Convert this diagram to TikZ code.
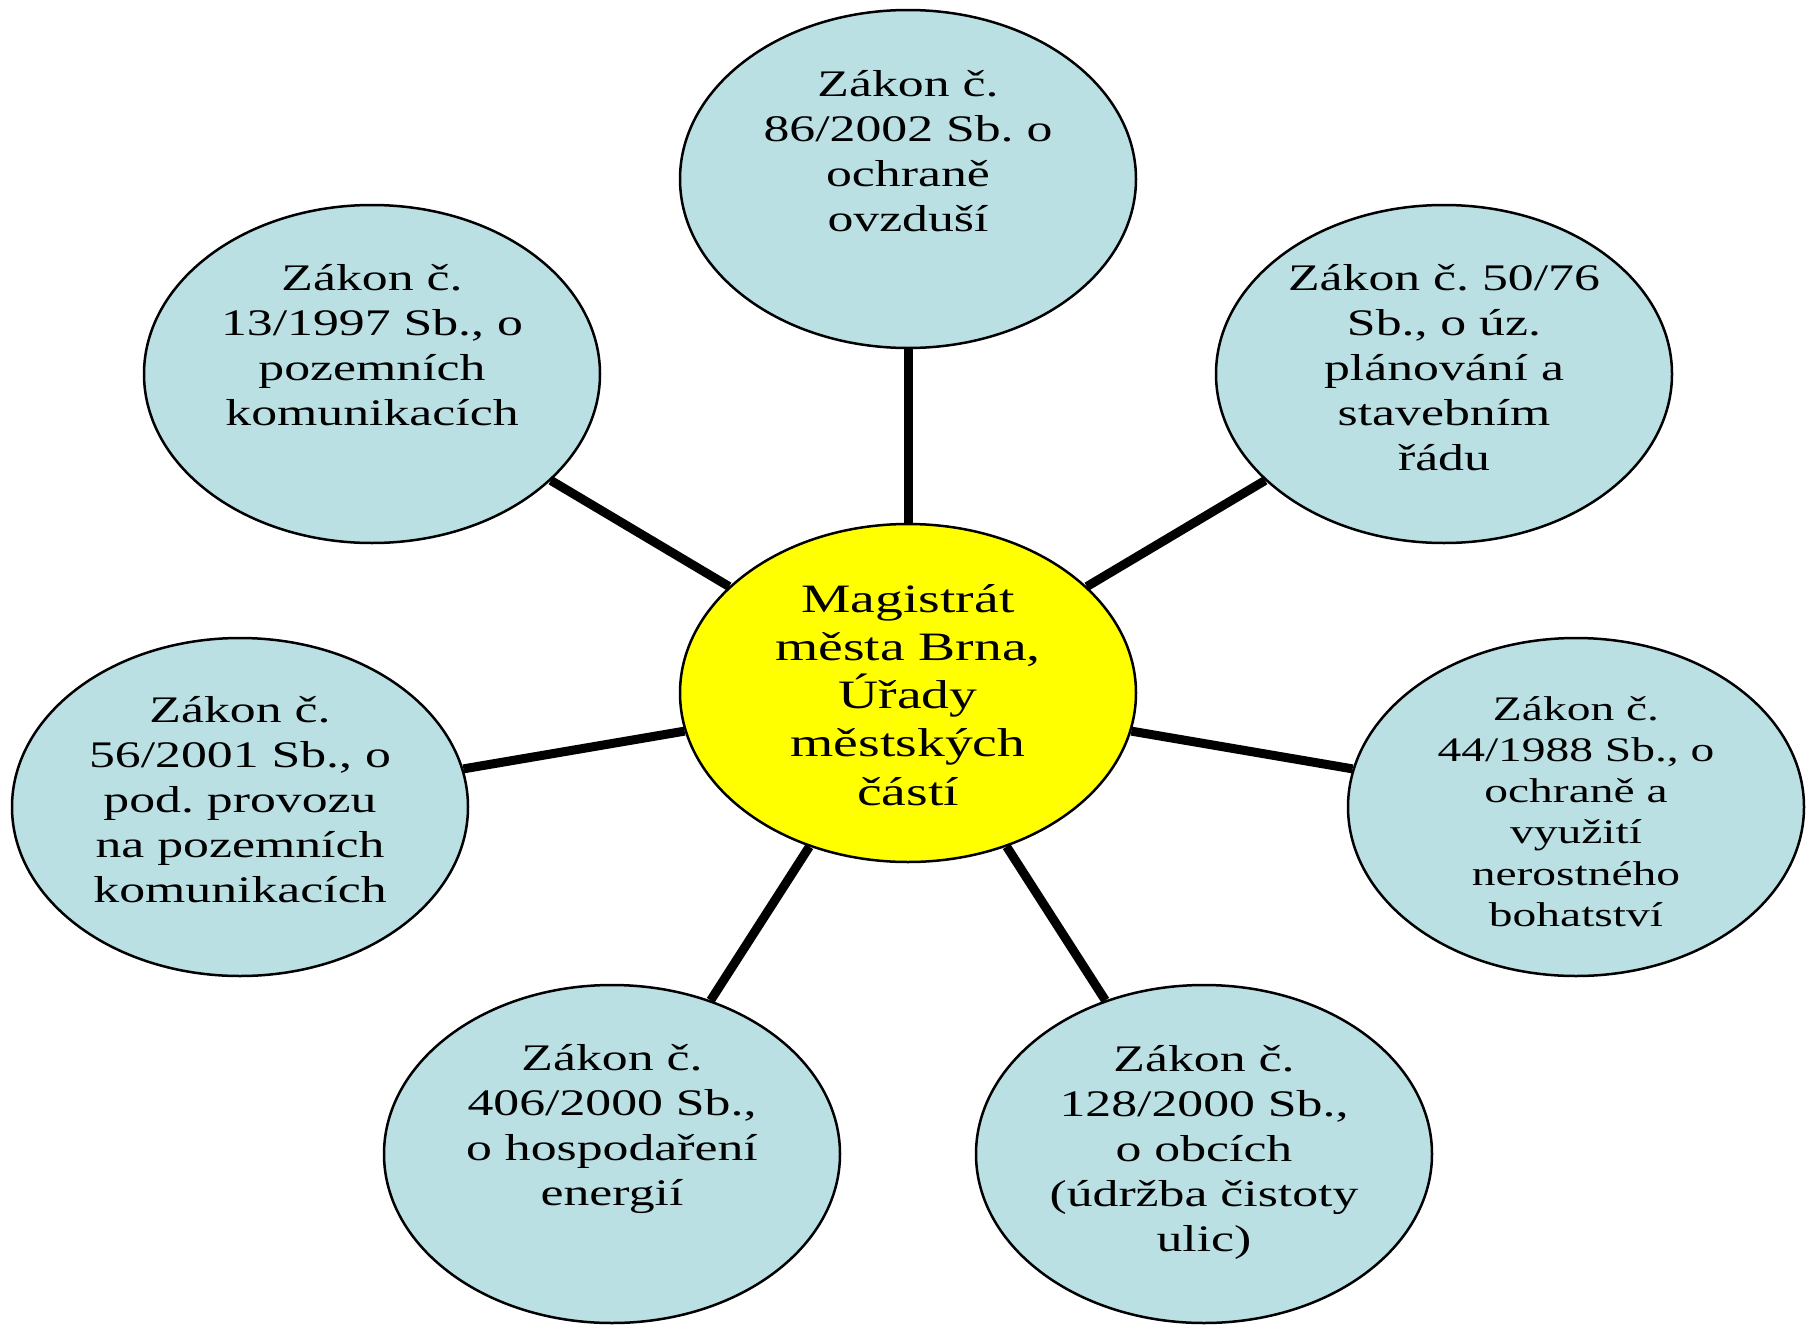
\documentclass[tikz,border=0pt]{standalone}
\usepackage{fontspec}
\setmainfont{Liberation Serif}[FakeStretch=1.38]
\usetikzlibrary{shapes.geometric,backgrounds}
\definecolor{lawfill}{RGB}{186,224,228}
\definecolor{hubfill}{RGB}{255,255,0}
\frenchspacing
% centred block of lines; its baseline is the first line's baseline
\newcommand{\lawbox}[1]{\parbox[t]{460pt}{\centering #1}}
\begin{document}
\begin{tikzpicture}[x=1pt,y=-1pt,
  oval/.style={ellipse, draw=black, line width=2.5pt,
    minimum width=456pt, minimum height=338pt, inner sep=0pt},
  law/.style={oval, fill=lawfill},
  hub/.style={oval, fill=hubfill},
  caption/.style={anchor=base, inner sep=0pt,
    font=\fontsize{37.5}{45}\selectfont},
  link/.style={line width=9pt}]
\useasboundingbox (0,0) rectangle (1816,1325);

% ellipses
\node[hub] (hub) at (908,693) {};
\node[law] (air)    at (908,179)  {};
\node[law] (roads)  at (372,374)  {};
\node[law] (plan)   at (1444,374) {};
\node[law] (traffic) at (240,807) {};
\node[law] (mining) at (1576,807) {};
\node[law] (energy) at (612,1154) {};
\node[law] (towns)  at (1204,1154) {};

% spokes
\begin{pgfonlayer}{background}
\foreach \n in {air,roads,plan,traffic,mining,energy,towns}
  \draw[link] (hub) -- (\n);
\end{pgfonlayer}

% texts
\node[caption] (hubtext) at ([yshift=81pt]hub.center)
  {\fontsize{40.3}{48.3}\selectfont\lawbox{Magistrát\\města Brna,\\Úřady\\městských\\částí}};
\node[caption] (airtext) at ([yshift=83pt]air.center)
  {\lawbox{Zákon č.\\86/2002 Sb. o\\ochraně\\ovzduší}};
\node[caption] (roadstext) at ([yshift=84pt]roads.center)
  {\lawbox{Zákon č.\\13/1997 Sb., o\\pozemních\\komunikacích}};
\node[caption] (plantext) at ([yshift=84pt]plan.center)
  {\lawbox{Zákon č. 50/76\\Sb., o úz.\\plánování a\\stavebním\\řádu}};
\node[caption] (traffictext) at ([yshift=85pt]traffic.center)
  {\lawbox{Zákon č.\\56/2001 Sb., o\\pod. provozu\\na pozemních\\komunikacích}};
\node[caption] (miningtext) at ([yshift=87pt]mining.center)
  {\fontsize{34.4}{41.3}\selectfont\lawbox{Zákon č.\\44/1988 Sb., o\\ochraně a\\využití\\nerostného\\bohatství}};
\node[caption] (energytext) at ([yshift=84pt]energy.center)
  {\lawbox{Zákon č.\\406/2000 Sb.,\\o hospodaření\\energií}};
\node[caption] (townstext) at ([yshift=83pt]towns.center)
  {\lawbox{Zákon č.\\128/2000 Sb.,\\o obcích\\(údržba čistoty\\ulic)}};
\end{tikzpicture}
\end{document}
